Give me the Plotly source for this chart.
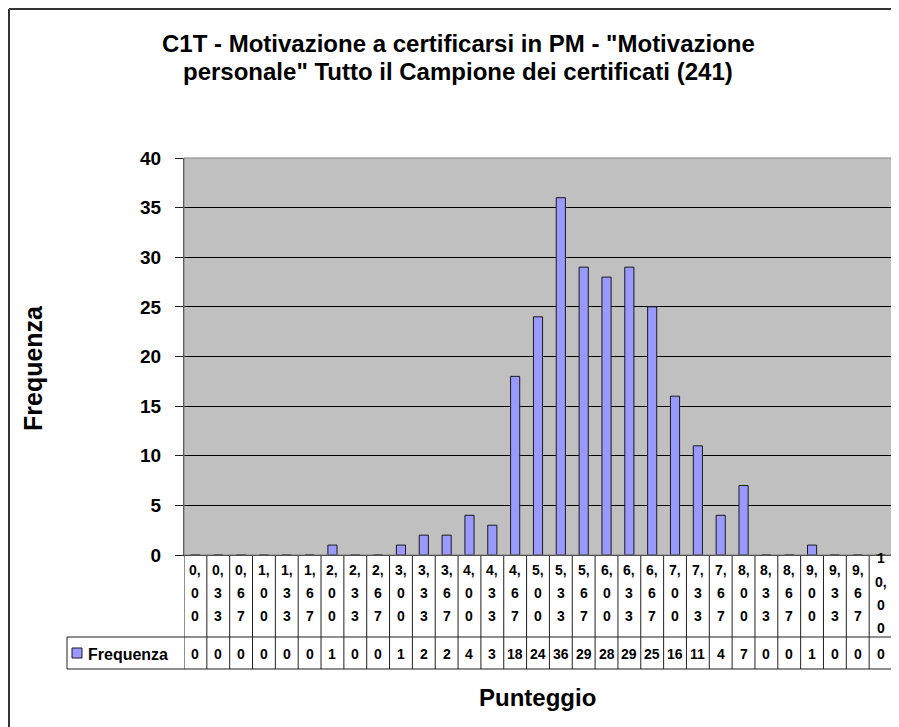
import plotly.graph_objects as go

categories = ["0,00", "0,33", "0,67", "1,00", "1,33", "1,67", "2,00", "2,33", "2,67",
              "3,00", "3,33", "3,67", "4,00", "4,33", "4,67", "5,00", "5,33", "5,67",
              "6,00", "6,33", "6,67", "7,00", "7,33", "7,67", "8,00", "8,33", "8,67",
              "9,00", "9,33", "9,67", "10,00"]
frequenza = [0, 0, 0, 0, 0, 0, 1, 0, 0, 1, 2, 2, 4, 3, 18, 24, 36, 29, 28, 29, 25,
             16, 11, 4, 7, 0, 0, 1, 0, 0, 0]
series_name = "Frequenza"
title_lines = ['C1T - Motivazione a certificarsi in PM - "Motivazione',
               'personale" Tutto il Campione dei certificati (241)']
y_title = "Frequenza"
x_title = "Punteggio"

# the page body has an 8px margin, so the figure is drawn 8px smaller
OFF = 8
W, H = 899 - OFF, 727 - OFF
PLOT_L, PLOT_R, PLOT_T, PLOT_B = 184, 892, 158, 555  # page pixels
ML = PLOT_L - OFF
MT = PLOT_T - OFF
MR = W - (PLOT_R - OFF)
MB = H - (PLOT_B - OFF)
PW = PLOT_R - PLOT_L
PH = PLOT_B - PLOT_T
FONT = "Liberation Sans, Arial, sans-serif"


def py(p):  # page pixel y -> paper y
    return (PLOT_B - p) / PH


def px(p):  # page pixel x -> paper x
    return (p - PLOT_L) / PW


n = len(categories)
fig = go.Figure()
fig.add_trace(go.Bar(
    x=categories, y=frequenza, name=series_name,
    marker=dict(color="#9999FF", line=dict(color="#1a1a1a", width=1)),
    showlegend=False,
))

shapes = []
annotations = []
LINE = dict(color="#202020", width=1)

row1_bot = py(637)
row2_bot = py(669)
for i in range(n + 1):
    shapes.append(dict(type="line", xref="x", yref="paper", x0=i - 0.5, x1=i - 0.5,
                       y0=0, y1=row2_bot, line=LINE))
for yy in (row1_bot, row2_bot):
    shapes.append(dict(type="line", xref="paper", yref="paper", x0=px(67), x1=1,
                       y0=yy, y1=yy, line=LINE))
shapes.append(dict(type="line", xref="paper", yref="paper", x0=px(67), x1=px(67),
                   y0=row1_bot, y1=row2_bot, line=LINE))
shapes.append(dict(type="rect", xref="paper", yref="paper", x0=px(72), x1=px(82),
                   y0=py(658), y1=py(648), fillcolor="#9999FF",
                   line=dict(color="#1a1a1a", width=1)))
shapes.append(dict(type="rect", xref="paper", yref="paper", x0=0, x1=1, y0=0, y1=1,
                   line=dict(color="#808080", width=1), layer="above"))
# outer chart border (left and top visible)
shapes.append(dict(type="line", xref="paper", yref="paper", x0=px(9), x1=px(9),
                   y0=py(9), y1=py(760), line=dict(color="#333333", width=2)))
shapes.append(dict(type="line", xref="paper", yref="paper", x0=px(9), x1=px(920),
                   y0=py(9), y1=py(9), line=dict(color="#333333", width=2)))

TF = dict(family=FONT, size=14, color="black", weight="bold")
for cat, val in zip(categories, frequenza):
    whole, dec = cat.split(",")
    lines = list(whole[:-1]) + [whole[-1] + ","] + list(dec)
    if len(lines) == 3:
        ys = [570, 593, 616]
    else:
        ys = [558, 582, 605, 628]
    for t, yy in zip(lines, ys):
        annotations.append(dict(x=cat, xref="x", y=py(yy), yref="paper", text=t,
                                showarrow=False, font=TF, xanchor="center",
                                yanchor="middle"))
    annotations.append(dict(x=cat, xref="x", y=py(654), yref="paper", text=str(val),
                            showarrow=False, font=TF, xanchor="center",
                            yanchor="middle"))

annotations.append(dict(x=px(86), xref="paper", y=py(654), yref="paper",
                        text=series_name, showarrow=False,
                        font=dict(family=FONT, size=16, color="black", weight="bold"),
                        xanchor="left", yanchor="middle"))

for t, yy in zip(title_lines, (43, 71)):
    annotations.append(dict(x=px(458), xref="paper", y=py(yy), yref="paper", text=t,
                            showarrow=False,
                            font=dict(family=FONT, size=24, color="black", weight="bold"),
                            xanchor="center", yanchor="middle"))
annotations.append(dict(x=px(33), xref="paper", y=py(368), yref="paper", text=y_title,
                        textangle=-90, showarrow=False,
                        font=dict(family=FONT, size=25, color="black", weight="bold"),
                        xanchor="center", yanchor="middle"))
annotations.append(dict(x=px(537), xref="paper", y=py(697), yref="paper", text=x_title,
                        showarrow=False,
                        font=dict(family=FONT, size=24, color="black", weight="bold"),
                        xanchor="center", yanchor="middle"))

fig.update_layout(
    width=W, height=H,
    margin=dict(l=ML, r=MR, t=MT, b=MB, autoexpand=False),
    paper_bgcolor="white", plot_bgcolor="#C0C0C0",
    bargap=0.6,
    shapes=shapes, annotations=annotations,
    xaxis=dict(type="category", range=[-0.5, n - 0.5], showticklabels=False,
               ticks="", showgrid=False, showline=True, linecolor="#202020",
               linewidth=1, zeroline=False, fixedrange=True),
    yaxis=dict(range=[0, 40], dtick=5, tick0=0, ticks="outside", ticklen=8,
               tickcolor="#202020", showgrid=True, gridcolor="black", gridwidth=1,
               showline=True, linecolor="#404040", linewidth=1, zeroline=False,
               ticklabelstandoff=10,
               tickfont=dict(family=FONT, size=19, color="black", weight="bold")),
    font=dict(family=FONT),
)

fig.write_html("out.html")
